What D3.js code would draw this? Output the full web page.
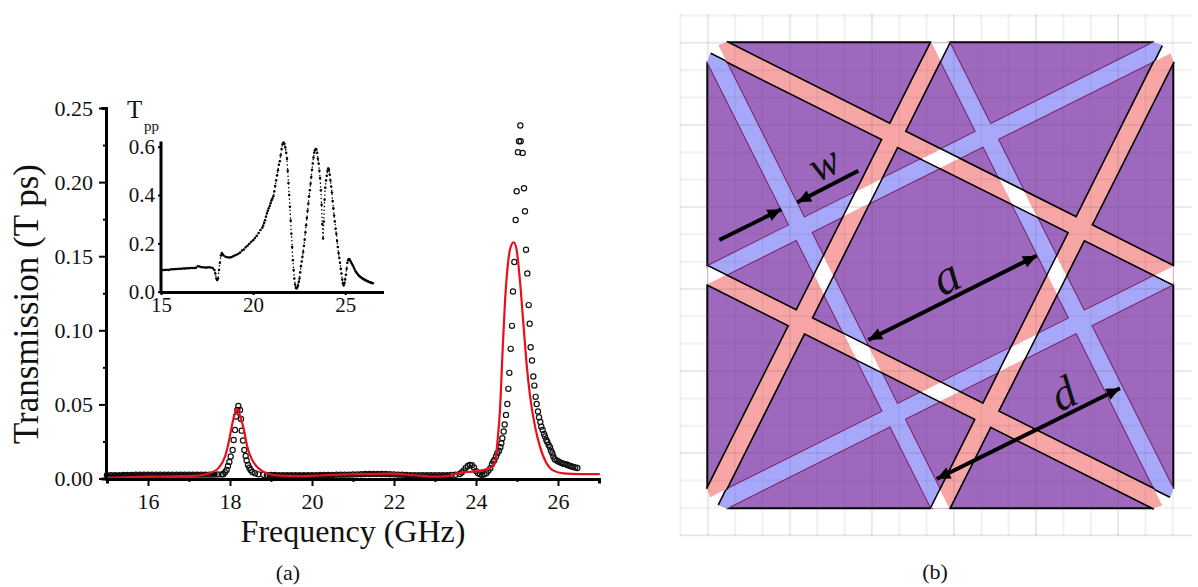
<!DOCTYPE html>
<html>
<head>
<meta charset="utf-8">
<script src="https://cdn.jsdelivr.net/npm/d3@7"></script>
<style>
  html, body { margin: 0; padding: 0; background: #fff; }
  svg { display: block; }
  text { font-family: "Liberation Serif", serif; fill: #111; }
  .axis path, .axis line { stroke: #000; }
</style>
</head>
<body>
<div id="chart"></div>
<script>
// ---------------------------------------------------------------------------//
// Panel (a) data: [frequency GHz, value]
// ---------------------------------------------------------------------------//
const scatterBaseLeft = [[15,.0022],[15.1,.0022],[15.2,.0023],[15.3,.0023],[15.4,.0024],[15.5,.0024],[15.6,.0024],[15.7,.0025],[15.8,.0025],[15.9,.0025],[16,.0025],[16.1,.0025],[16.2,.0025],[16.3,.0025],[16.4,.0026],[16.5,.0026],[16.6,.0026],[16.7,.0026],[16.8,.0026],[16.9,.0026],[17,.0026],[17.1,.0026],[17.2,.0026],[17.3,.0026],[17.4,.0026],[17.5,.0026],[17.6,.0026],[17.7,.0027]];
const scatterPeak18 = [[17.797,.0028],[17.837,.0029],[17.878,.0042],[17.918,.0058],[17.951,.0085],[17.984,.0112],[18.016,.0148],[18.065,.0193],[18.089,.026],[18.122,.0328],[18.146,.0418],[18.179,.0463],[18.203,.049],[18.244,.0463],[18.268,.0402],[18.284,.0323],[18.317,.0256],[18.349,.0193],[18.382,.0152],[18.406,.0121],[18.439,.0091],[18.472,.0073],[18.504,.0058],[18.545,.0044],[18.61,.0035],[18.691,.0028],[18.813,.0025]];
const scatterBaseMid = [[18.9,.0024],[19,.0024],[19.1,.0024],[19.2,.0023],[19.3,.0023],[19.4,.0023],[19.5,.0023],[19.6,.0023],[19.7,.0023],[19.8,.0023],[19.9,.0023],[20,.0023],[20.1,.0023],[20.2,.0024],[20.3,.0024],[20.4,.0024],[20.5,.0024],[20.6,.0025],[20.7,.0025],[20.8,.0026],[20.9,.0026],[21,.0027],[21.1,.0028],[21.2,.0029],[21.3,.003],[21.4,.003],[21.5,.0031],[21.6,.0031],[21.7,.003],[21.8,.003],[21.9,.0029],[22,.0028],[22.1,.0026],[22.2,.0025],[22.3,.0024],[22.4,.0023],[22.5,.0022],[22.6,.0022],[22.7,.0022],[22.8,.0022],[22.9,.0022],[23,.0022],[23.1,.0022],[23.2,.0022],[23.3,.0023],[23.4,.0024]];
const scatterBump24 = [[23.5,.0025],[23.6,.003],[23.65,.004],[23.7,.0055],[23.75,.0072],[23.8,.0085],[23.85,.0091],[23.9,.009],[23.95,.0075],[24,.005],[24.05,.0035],[24.1,.0028],[24.15,.0025],[24.2,.0028],[24.25,.0035],[24.3,.0052],[24.35,.007],[24.39,.0098]];
const scatterPeak25 = [[24.423,.0114],[24.447,.0125],[24.488,.0148],[24.52,.017],[24.561,.0188],[24.594,.0211],[24.618,.0238],[24.642,.0272],[24.675,.0317],[24.699,.0364],[24.732,.0429],[24.764,.0503],[24.789,.0605],[24.813,.0713],[24.846,.0875],[24.878,.103],[24.902,.1262],[24.935,.1461],[24.967,.1744],[24.992,.1938],[25.024,.2202],[25.049,.2276],[25.081,.2382],[25.089,.2276],[25.138,.2197],[25.171,.1958],[25.195,.1803],[25.22,.1544],[25.252,.1384],[25.285,.117],[25.309,.1044],[25.333,.0886],[25.366,.0796],[25.398,.0688],[25.423,.0627],[25.455,.0551],[25.48,.0503],[25.512,.0452],[25.537,.0413],[25.569,.0382],[25.593,.035],[25.626,.0328],[25.659,.0301],[25.683,.0283],[25.715,.026],[25.74,.0247],[25.772,.0226],[25.805,.0211],[25.829,.0188],[25.862,.017],[25.886,.0148],[25.919,.013],[25.967,.0121],[26.01,.0115],[26.049,.0109],[26.09,.0104],[26.13,.01],[26.17,.0097],[26.211,.0094],[26.25,.009],[26.293,.0085],[26.33,.0081],[26.374,.0078],[26.42,.0075],[26.472,.0071]];

const fitCurve = [[15,.0004],[16,.0012],[16.6,.0015],[17.2,.002],[17.5,.0036],[17.72,.007],[17.88,.0149],[17.98,.026],[18.06,.0374],[18.12,.044],[18.17,.047],[18.22,.0445],[18.28,.039],[18.34,.0329],[18.42,.0216],[18.54,.0126],[18.69,.007],[18.89,.0036],[19.22,.0019],[19.63,.0016],[20.3,.0022],[21.09,.0029],[21.9,.0033],[22.5,.0022],[23.12,.0012],[23.36,.0019],[23.61,.004],[23.94,.0047],[24.34,.0069],[24.46,.0103],[24.52,.0238],[24.585,.0463],[24.65,.0868],[24.71,.1206],[24.79,.1476],[24.85,.1567],[24.92,.1594],[24.99,.1544],[25.07,.1341],[25.155,.1048],[25.24,.0756],[25.32,.0553],[25.44,.035],[25.56,.0215],[25.72,.0103],[25.89,.0053],[26.13,.0035],[26.54,.003],[27.02,.003]];

const insetFlat = [[15,.09],[15.1,.09],[15.2,.09],[15.3,.091],[15.4,.09],[15.5,.092],[15.6,.093],[15.7,.093],[15.8,.094],[15.9,.094],[16,.095],[16.1,.095],[16.2,.096],[16.3,.096],[16.4,.097],[16.5,.097],[16.6,.098],[16.7,.098],[16.8,.098],[16.9,.099],[17,.105],[17.1,.104],[17.2,.101],[17.3,.101],[17.4,.1],[17.5,.1],[17.6,.101],[17.7,.1],[17.8,.098]];
const insetRise = [[17.9,.09],[17.95,.075],[18,.055],[18.05,.048],[18.1,.055],[18.15,.09],[18.2,.12],[18.25,.15],[18.3,.16],[18.35,.155],[18.4,.15],[18.5,.145],[18.6,.143],[18.7,.142],[18.8,.143],[18.9,.146],[19,.15],[19.1,.153],[19.2,.157],[19.3,.162],[19.4,.17],[19.5,.175],[19.6,.184],[19.7,.19],[19.8,.198],[19.9,.207],[20,.213],[20.1,.222],[20.2,.232],[20.3,.243],[20.4,.255],[20.5,.265],[20.55,.274],[20.6,.285],[20.65,.296],[20.7,.31],[20.75,.324],[20.8,.335],[20.85,.345],[20.9,.355],[20.95,.366],[21,.378],[21.05,.386],[21.1,.395],[21.15,.415],[21.2,.437],[21.25,.46],[21.3,.482],[21.35,.503],[21.4,.525],[21.45,.54],[21.5,.565],[21.55,.59],[21.6,.61],[21.65,.617],[21.7,.612],[21.75,.597],[21.8,.575]];
const insetFall = [[21.84,.55],[21.88,.5],[21.92,.45],[21.96,.4],[22,.352],[22.04,.295],[22.08,.24],[22.12,.185],[22.16,.13],[22.2,.09],[22.24,.055],[22.28,.03],[22.32,.016],[22.36,.013],[22.4,.018],[22.44,.026],[22.48,.04],[22.52,.055],[22.56,.08],[22.6,.105],[22.64,.125],[22.68,.145],[22.72,.165],[22.76,.19],[22.8,.215],[22.84,.245],[22.88,.275],[22.92,.305],[22.96,.335],[23,.365],[23.04,.395],[23.08,.42],[23.12,.447],[23.16,.475],[23.2,.505],[23.24,.53],[23.28,.555],[23.32,.575],[23.36,.585],[23.4,.59],[23.44,.588],[23.48,.575],[23.52,.55],[23.56,.53],[23.6,.5],[23.64,.47],[23.68,.42],[23.72,.36],[23.76,.28],[23.8,.22]];
const insetTail = [[23.84,.29],[23.88,.38],[23.92,.43],[23.96,.46],[24,.48],[24.04,.5],[24.08,.51],[24.12,.505],[24.16,.485],[24.2,.46],[24.24,.435],[24.28,.41],[24.32,.375],[24.36,.345],[24.4,.315],[24.44,.29],[24.48,.26],[24.52,.24],[24.56,.21],[24.6,.185],[24.64,.16],[24.68,.14],[24.72,.12],[24.76,.095],[24.8,.075],[24.84,.05],[24.88,.035],[24.92,.027],[24.96,.035],[25,.05],[25.04,.07],[25.08,.095],[25.12,.12],[25.16,.13],[25.2,.135],[25.25,.132],[25.3,.125],[25.35,.118],[25.4,.11],[25.45,.103],[25.5,.095],[25.55,.087],[25.6,.08],[25.65,.075],[25.7,.07],[25.75,.066],[25.8,.063],[25.85,.06],[25.9,.057],[25.95,.055],[26,.052],[26.05,.05],[26.1,.047],[26.15,.045],[26.2,.044],[26.25,.042],[26.3,.04],[26.35,.039],[26.4,.038],[26.45,.036],[26.5,.035]];

const freqTicks = [16, 18, 20, 22, 24, 26];
const freqMinorTicks = [17, 19, 21, 23, 25, 27];
const transTicks = [0, 0.05, 0.10, 0.15, 0.20, 0.25];
const transMinorTicks = [0.025, 0.075, 0.125, 0.175, 0.225];
const insetFreqTicks = [15, 20, 25];
const insetTppTicks = [0, 0.2, 0.4, 0.6];

// ---------------------------------------------------------------------------//
// Panel (b) data, schematic units about the centre of the square
// ---------------------------------------------------------------------------//
// one strip running from its chamfered tip to the notch on the opposite side
const stripOutline = [[-222,-230.3],[-213.6,-233],[233,-9],[233,9],[-213.9,-214.2]];
const stripEdgeOuter = [[-213.6,-233],[233,-9]];
const stripEdgeInner = [[-213.9,-214.2],[233,9]];
const stripTipEdge = [[-229.6,-222],[-213.9,-214.2]];
const plateOutline = [[-213.6,-233],[213.6,-233],[214,-214],[233,-213.6],[233,213.6],[214,214],[213.6,233],[-213.6,233],[-214,214],[-233,213.6],[-233,-213.6],[-214,-214]];
const plateEdges = [[[-213.6,-233],[-9,-233]],[[9,-233],[213.6,-233]]];
const gridCells = d3.range(-9.5, 10, 1);
const arrowsSingle = [[[-221,-35.3],[-159,-66]],[[-82,-104.6],[-143,-73]]];
const arrowsDouble = [[[-72,64.7],[96.4,-19.6]],[[179.7,113],[-3.6,203.7]]];
const symbols = [
  { text: "w", x: -110, y: -99, size: 44 },
  { text: "a", x: 13, y: 16, size: 50 },
  { text: "d", x: 130, y: 132, size: 46 },
];

const quarterTurns = [0, 1, 2, 3];
const gridStep = 27.35;

// ---------------------------------------------------------------------------//
// Page
// ---------------------------------------------------------------------------//
const svg = d3.select("#chart").append("svg").attr("width", 1198).attr("height", 587);

drawMainPlot();
drawInset();
drawSchematic();

svg.append("text").attr("x", 288).attr("y", 580).attr("text-anchor", "middle")
  .style("font-size", "22px").text("(a)");
svg.append("text").attr("x", 935).attr("y", 579).attr("text-anchor", "middle")
  .style("font-size", "22px").text("(b)");

function styleAxis(g, width, size) {
  g.attr("class", "axis");
  g.select(".domain").attr("stroke-width", width).attr("stroke-linecap", "square");
  g.selectAll(".tick line").attr("stroke-width", 2);
  g.selectAll(".tick text").style("font-size", size + "px").attr("fill", "#111");
}

function drawMainPlot() {
  const x = d3.scaleLinear().domain([15, 27]).range([107, 599]);
  const y = d3.scaleLinear().domain([0, 0.25]).range([478.5, 108]);

  const points = [].concat(scatterBaseLeft, scatterPeak18, scatterBaseMid, scatterBump24, scatterPeak25);
  const line = d3.line().x((d) => x(d[0])).y((d) => y(d[1]));

  // the circles overlap into a solid band along the flat stretches
  [scatterBaseLeft, scatterBaseMid].forEach((run) => {
    svg.append("path").datum(run)
      .attr("d", line)
      .attr("fill", "none")
      .attr("stroke", "#111")
      .attr("stroke-width", 4);
  });

  svg.append("g").selectAll("circle").data(points).join("circle")
    .attr("cx", (d) => x(d[0]))
    .attr("cy", (d) => y(d[1]))
    .attr("r", 2.6)
    .attr("fill", "none")
    .attr("stroke", "#111")
    .attr("stroke-width", 1.2);

  svg.append("path").datum(fitCurve)
    .attr("d", line.curve(d3.curveMonotoneX))
    .attr("fill", "none")
    .attr("stroke", "#e8101c")
    .attr("stroke-width", 2.2);

  const minorX = d3.axisBottom(x).tickValues(freqMinorTicks).tickSize(3).tickFormat("");
  styleAxis(svg.append("g").attr("transform", "translate(0,479)").call(minorX), 3, 22);
  const minorY = d3.axisLeft(y).tickValues(transMinorTicks).tickSize(3).tickFormat("");
  styleAxis(svg.append("g").attr("transform", "translate(106,0)").call(minorY), 3, 22);

  const xAxis = d3.axisBottom(x).tickValues(freqTicks).tickSize(7).tickSizeOuter(0).tickPadding(7).tickFormat(d3.format("d"));
  styleAxis(svg.append("g").attr("transform", "translate(0,479)").call(xAxis), 3, 22);
  const yAxis = d3.axisLeft(y).tickValues(transTicks).tickSize(7).tickSizeOuter(0).tickPadding(6).tickFormat(d3.format(".2f"));
  styleAxis(svg.append("g").attr("transform", "translate(106,0)").call(yAxis), 3, 22);

  svg.append("text")
    .attr("transform", "translate(38,304) rotate(-90)")
    .attr("text-anchor", "middle")
    .style("font-size", "35px")
    .text("Transmission (T ps)");
  svg.append("text")
    .attr("x", 353).attr("y", 542)
    .attr("text-anchor", "middle")
    .style("font-size", "32px")
    .text("Frequency (GHz)");
}

function drawInset() {
  const x = d3.scaleLinear().domain([15, 27]).range([161, 382]);
  const y = d3.scaleLinear().domain([0, 0.6]).range([291.7, 146.7]);

  const points = [].concat(insetFlat, insetRise, insetFall, insetTail);
  svg.append("path").datum(points)
    .attr("d", d3.line().x((d) => x(d[0])).y((d) => y(d[1])))
    .attr("fill", "none")
    .attr("stroke", "#000")
    .attr("stroke-width", 1.3)
    .attr("stroke-dasharray", "1.4 2.4");
  svg.append("g").selectAll("circle").data(points).join("circle")
    .attr("cx", (d) => x(d[0]))
    .attr("cy", (d) => y(d[1]))
    .attr("r", 1.25)
    .attr("fill", "#000");

  const xAxis = d3.axisBottom(x).tickValues(insetFreqTicks).tickSize(3).tickSizeOuter(0).tickPadding(2).tickFormat(d3.format("d"));
  styleAxis(svg.append("g").attr("transform", "translate(0,292)").call(xAxis), 3, 21);
  const yAxis = d3.axisLeft(y).tickValues(insetTppTicks).tickSize(3).tickSizeOuter(0).tickPadding(3).tickFormat(d3.format(".1f"));
  const yGroup = svg.append("g").attr("transform", "translate(161,0)").call(yAxis);
  styleAxis(yGroup, 3, 21);
  yGroup.select(".domain").attr("d", `M0,${y(0)}V143`);

  svg.append("text").attr("x", 127).attr("y", 118).style("font-size", "25px").text("T");
  svg.append("text").attr("x", 144).attr("y", 131).style("font-size", "15px").text("pp");
}

function drawSchematic() {
  const sx = d3.scaleLinear().domain([-233, 233]).range([707.3, 1173.3]);
  const sy = d3.scaleLinear().domain([-233, 233]).range([42.3, 508.3]);
  const turn = (p, k) => {
    let [a, b] = p;
    for (let i = 0; i < k; i++) [a, b] = [-b, a];
    return [a, b];
  };
  const mirror = (p) => [-p[0], p[1]];
  const toPath = (pts, closed) =>
    "M" + pts.map((p) => `${sx(p[0])},${sy(p[1])}`).join("L") + (closed ? "Z" : "");

  const red = quarterTurns.map((k) => stripOutline.map((p) => turn(p, k)));
  const blue = quarterTurns.map((k) => stripOutline.map((p) => mirror(turn(p, k))));

  const root = svg.append("g");
  const defs = root.append("defs");
  red.forEach((pts, i) => {
    defs.append("clipPath").attr("id", `red-clip-${i}`)
      .append("path").attr("d", toPath(pts, true));
  });

  const edge = (pts, color, width) => {
    root.append("path").attr("d", toPath(pts))
      .attr("stroke", color).attr("stroke-width", width).attr("fill", "none");
  };

  // plate first, then blue and red strips, each outlined from underneath
  root.append("path").attr("d", toPath(plateOutline, true)).attr("fill", "#9e68be");
  quarterTurns.forEach((k) => {
    plateEdges.forEach((e) => edge(e.map((p) => turn(p, k)), "#000", 2));
  });

  quarterTurns.forEach((k) => {
    [stripEdgeOuter, stripEdgeInner].forEach((e) => {
      edge(e.map((p) => mirror(turn(p, k))), "#7a2a6e", 2.2);
    });
  });
  root.selectAll("path.blue").data(blue).join("path").attr("class", "blue")
    .attr("d", (d) => toPath(d, true)).attr("fill", "#a8a8fb");

  quarterTurns.forEach((k) => {
    [stripEdgeOuter, stripEdgeInner].forEach((e) => {
      edge(e.map((p) => turn(p, k)), "#000", 3.2);
    });
    edge(stripTipEdge.map((p) => turn(p, k)), "#000", 1.6);
  });
  root.selectAll("path.red").data(red).join("path").attr("class", "red")
    .attr("d", (d) => toPath(d, true)).attr("fill", "#f8a5a5");

  // where both slots cross nothing is left
  red.forEach((pts, i) => {
    root.append("g").attr("clip-path", `url(#red-clip-${i})`)
      .selectAll("path").data(blue).join("path")
      .attr("d", (d) => toPath(d, true)).attr("fill", "#fff");
  });

  // faint drawing grid shows through everything
  const grid = root.append("g").attr("stroke", "#5a4a6a");
  grid.selectAll("line.v").data(gridCells).join("line").attr("class", "v")
    .attr("x1", (d) => sx(d * gridStep)).attr("x2", (d) => sx(d * gridStep))
    .attr("y1", 14).attr("y2", 536)
    .attr("stroke-opacity", (d, i) => (i % 3 === 1 ? 0.13 : 0.08))
    .attr("stroke-width", 2);
  grid.selectAll("line.h").data(gridCells).join("line").attr("class", "h")
    .attr("y1", (d) => sy(d * gridStep)).attr("y2", (d) => sy(d * gridStep))
    .attr("x1", 680).attr("x2", 1192)
    .attr("stroke-opacity", (d, i) => (i % 3 === 1 ? 0.13 : 0.08))
    .attr("stroke-width", 2);

  const head = (from, to) => {
    const ang = Math.atan2(sy(to[1]) - sy(from[1]), sx(to[0]) - sx(from[0]));
    const tx = sx(to[0]), ty = sy(to[1]);
    const pt = (r, a) => `${tx + r * Math.cos(ang + a)},${ty + r * Math.sin(ang + a)}`;
    root.append("path").attr("d", `M${tx},${ty}L${pt(15, 2.72)}L${pt(15, -2.72)}Z`).attr("fill", "#000");
  };
  const shaft = (from, to) => {
    root.append("line")
      .attr("x1", sx(from[0])).attr("y1", sy(from[1]))
      .attr("x2", sx(to[0])).attr("y2", sy(to[1]))
      .attr("stroke", "#000").attr("stroke-width", 4);
  };
  arrowsSingle.forEach(([a, b]) => { shaft(a, b); head(a, b); });
  arrowsDouble.forEach(([a, b]) => { shaft(a, b); head(a, b); head(b, a); });

  root.selectAll("text.sym").data(symbols).join("text").attr("class", "sym")
    .attr("transform", (d) => `translate(${sx(d.x)},${sy(d.y)}) rotate(-27)`)
    .attr("text-anchor", "middle")
    .style("font-style", "italic")
    .style("font-size", (d) => d.size + "px")
    .text((d) => d.text);
}
</script>
</body>
</html>
